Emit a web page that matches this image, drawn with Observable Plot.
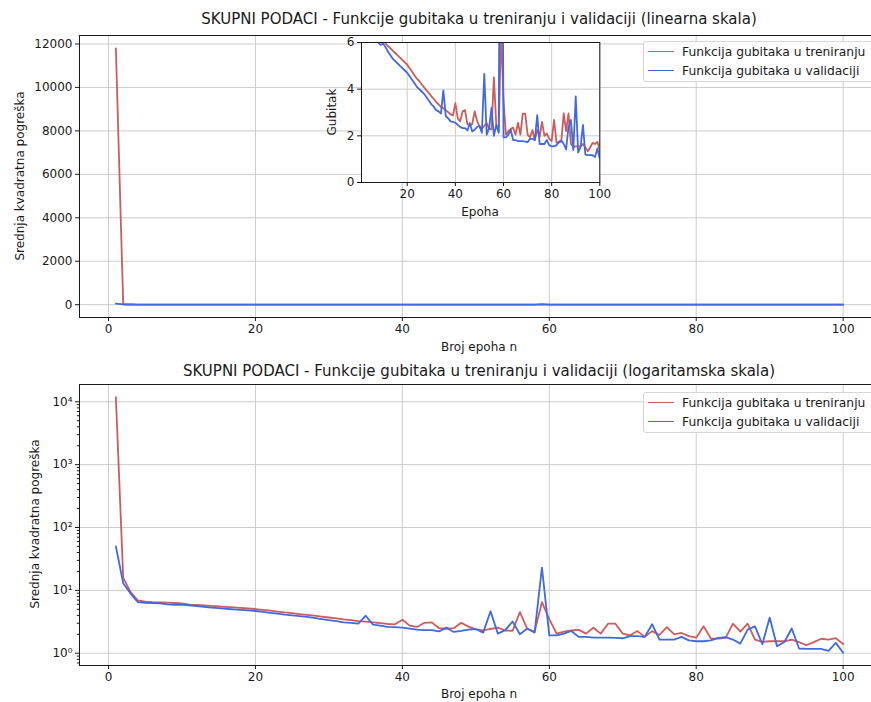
<!DOCTYPE html>
<html><head><meta charset="utf-8">
<script src="https://cdn.jsdelivr.net/npm/d3@7"></script>
<script src="https://cdn.jsdelivr.net/npm/@observablehq/plot@0.6"></script>
<style>
body{margin:0;background:#fff;}
#root{position:relative;width:871px;height:702px;overflow:hidden;background:#fff;font-family:"DejaVu Sans",sans-serif;color:#1a1a1a;}
.abs{position:absolute;left:0;top:0;}
.title{position:absolute;font-size:15px;white-space:nowrap;transform:translateX(-50%);line-height:17px;}
.ylab{position:absolute;font-size:12px;white-space:nowrap;transform:translate(-50%,-50%) rotate(-90deg);line-height:14px;}
.xlab{position:absolute;font-size:12px;white-space:nowrap;transform:translate(-50%,-50%);line-height:14px;}
.legend{position:absolute;width:232px;height:41px;border:1px solid #d6d6d6;border-radius:3px;background:rgba(255,255,255,0.85);font-size:12.3px;box-sizing:border-box;}
.legend .sw{position:absolute;left:4px;width:26px;height:0;border-top:1.8px solid;}
.legend .tx{position:absolute;left:38px;white-space:nowrap;line-height:14px;transform:translateY(-50%);}
</style>
</head><body>
<div id="root"></div>
<script>
// ---- data ----
const epochs = Array.from({length: 100}, (_, i) => i + 1);
const trainLoss = [11800, 16, 9.4, 6.9, 6.6, 6.5, 6.45, 6.4, 6.3, 6.2,
  5.95, 5.85, 5.75, 5.65, 5.55, 5.45, 5.35, 5.25, 5.15, 5.05,
  4.9, 4.75, 4.6, 4.45, 4.35, 4.2, 4.08, 3.95, 3.83, 3.7,
  3.58, 3.45, 3.35, 3.24, 3.18, 3.1, 3.02, 2.92, 2.88, 3.4,
  2.75, 2.62, 3.05, 3.1, 2.5, 2.45, 2.5, 3.05, 2.65, 2.4,
  2.3, 2.43, 2.55, 2.3, 2.28, 4.5, 2.45, 2.2, 6.5, 3.5,
  2.05, 2.2, 2.3, 2.35, 2.05, 2.55, 2.05, 2.95, 2.95, 2.05,
  1.93, 2.25, 1.82, 2.25, 1.95, 2.6, 2.0, 2.1, 1.87, 1.77,
  2.68, 1.71, 1.71, 1.75, 2.96, 2.2, 2.96, 1.65, 1.52, 1.55,
  1.55, 1.55, 1.65, 1.5, 1.34, 1.5, 1.7, 1.65, 1.74, 1.4];
const valLoss = [50, 13, 8.9, 6.5, 6.35, 6.3, 6.2, 6.0, 5.9, 5.95,
  5.8, 5.6, 5.45, 5.3, 5.2, 5.1, 5.0, 4.9, 4.8, 4.7,
  4.55, 4.4, 4.25, 4.1, 4.0, 3.9, 3.8, 3.65, 3.5, 3.35,
  3.25, 3.1, 3.05, 2.95, 3.95, 2.85, 2.75, 2.62, 2.6, 2.56,
  2.47, 2.38, 2.33, 2.33, 2.23, 2.55, 2.18, 2.26, 2.38, 2.43,
  2.13, 4.65, 2.05, 2.33, 3.2, 2.0, 2.47, 2.13, 23, 1.93,
  1.93, 2.05, 2.26, 1.82, 1.82, 1.77, 1.77, 1.77, 1.75, 1.73,
  1.87, 1.87, 1.82, 2.89, 1.65, 1.65, 1.65, 1.82, 1.6, 1.55,
  1.55, 1.6, 1.75, 1.8, 1.65, 1.42, 2.38, 2.68, 1.39, 3.69,
  1.29, 1.51, 2.47, 1.19, 1.17, 1.17, 1.17, 1.09, 1.46, 1.02];
const seriesNames = ["Funkcija gubitaka u treniranju", "Funkcija gubitaka u validaciji"];
const seriesColors = ["#cd5c5c", "#4169e1"];
const titles = ["SKUPNI PODACI - Funkcije gubitaka u treniranju i validaciji (linearna skala)",
                "SKUPNI PODACI - Funkcije gubitaka u treniranju i validaciji (logaritamska skala)"];
const xLabel = "Broj epoha n";
const yLabel = "Srednja kvadratna pogreška";
const insetXLabel = "Epoha";
const insetYLabel = "Gubitak";
const xTicks = [0, 20, 40, 60, 80, 100];
const linTicks = [0, 2000, 4000, 6000, 8000, 10000, 12000];
const logTicks = [1, 10, 100, 1000, 10000];
const insetXTicks = [20, 40, 60, 80, 100];
const insetYTicks = [0, 2, 4, 6];

const rows = epochs.map((e, i) => ({epoch: e, train: trainLoss[i], val: valLoss[i]}));

const root = document.getElementById("root");
const INK = "#1a1a1a";
const GRID = "#cccccc";
const LW = 1.8;
const baseStyle = {background: "transparent", maxWidth: "none", overflow: "visible",
  fontFamily: "DejaVu Sans, sans-serif", fontSize: "12px", color: INK};
const xDomain = [-3.95, 104.95];

function place(el, left, topPx) {
  const w = document.createElement("div");
  w.className = "abs";
  w.style.left = left + "px"; w.style.top = topPx + "px";
  w.appendChild(el); root.appendChild(w);
}
function addDiv(cls, text, left, topPx) {
  const d = document.createElement("div");
  d.className = cls; d.textContent = text;
  d.style.left = left + "px"; d.style.top = topPx + "px";
  root.appendChild(d); return d;
}
function addLegend(left, topPx) {
  const lg = document.createElement("div");
  lg.className = "legend"; lg.style.left = left + "px"; lg.style.top = topPx + "px";
  seriesNames.forEach((n, i) => {
    const y = 10 + i * 18.8;
    const sw = document.createElement("div"); sw.className = "sw";
    sw.style.top = (y - 0.9) + "px"; sw.style.borderTopColor = seriesColors[i];
    const tx = document.createElement("div"); tx.className = "tx";
    tx.style.top = y + "px"; tx.textContent = n;
    lg.appendChild(sw); lg.appendChild(tx);
  });
  root.appendChild(lg);
}

// ---- top (linear) ----
const linPlot = Plot.plot({
  width: 900, height: 360,
  marginLeft: 79, marginRight: 21, marginTop: 35, marginBottom: 43,
  style: baseStyle,
  x: {domain: xDomain},
  y: {domain: [-590, 12390]},
  marks: [
    Plot.gridX(xTicks, {stroke: GRID, strokeOpacity: 1, strokeWidth: 1}),
    Plot.gridY(linTicks, {stroke: GRID, strokeOpacity: 1, strokeWidth: 1}),
    Plot.line(rows, {x: "epoch", y: "train", stroke: seriesColors[0], strokeWidth: LW}),
    Plot.line(rows, {x: "epoch", y: "val", stroke: seriesColors[1], strokeWidth: LW}),
    Plot.frame({stroke: INK, strokeWidth: 1}),
    Plot.axisX(xTicks, {label: null, tickSize: 4, tickPadding: 3, fontSize: 12, tickFormat: d => String(d)}),
    Plot.axisY(linTicks, {label: null, tickSize: 4, tickPadding: 3, fontSize: 12, tickFormat: d => String(d)})
  ]
});
place(linPlot, 0, 0);

// ---- bottom (log) ----
const sup = {"0":"⁰","1":"¹","2":"²","3":"³","4":"⁴","5":"⁵","6":"⁶","7":"⁷","8":"⁸","9":"⁹","-":"⁻"};
const yLogDomain = [0.638, 18840];
const minor = [];
for (let k = -1; k <= 4; k++) for (let m = 2; m <= 9; m++) {
  const v = m * Math.pow(10, k);
  if (v >= yLogDomain[0] && v <= yLogDomain[1]) minor.push(v);
}
const logPlot = Plot.plot({
  width: 900, height: 352,
  marginLeft: 79, marginRight: 21, marginTop: 34, marginBottom: 37,
  style: baseStyle,
  x: {domain: xDomain},
  y: {type: "log", domain: yLogDomain},
  marks: [
    Plot.gridX(xTicks, {stroke: GRID, strokeOpacity: 1, strokeWidth: 1}),
    Plot.gridY(logTicks, {stroke: GRID, strokeOpacity: 1, strokeWidth: 1}),
    Plot.line(rows, {x: "epoch", y: "train", stroke: seriesColors[0], strokeWidth: LW}),
    Plot.line(rows, {x: "epoch", y: "val", stroke: seriesColors[1], strokeWidth: LW}),
    Plot.frame({stroke: INK, strokeWidth: 1}),
    Plot.axisX(xTicks, {label: null, tickSize: 4, tickPadding: 3, fontSize: 12, tickFormat: d => String(d)}),
    Plot.axisY(minor, {label: null, tickSize: 2.2, tickFormat: () => ""}),
    Plot.axisY(logTicks, {label: null, tickSize: 4, tickPadding: 3, fontSize: 12,
      tickFormat: d => "10" + String(Math.round(Math.log10(d))).split("").map(c => sup[c]).join("")})
  ]
});
place(logPlot, 0, 350);

// ---- inset ----
const insetPlot = Plot.plot({
  width: 290, height: 200,
  marginLeft: 40, marginRight: 11.7, marginTop: 10, marginBottom: 50,
  style: baseStyle,
  x: {domain: [1, 100]},
  y: {domain: [0, 6]},
  marks: [
    Plot.frame({fill: "white"}),
    Plot.gridX(insetXTicks, {stroke: GRID, strokeOpacity: 1, strokeWidth: 1}),
    Plot.gridY(insetYTicks, {stroke: GRID, strokeOpacity: 1, strokeWidth: 1}),
    Plot.line(rows, {x: "epoch", y: "train", stroke: seriesColors[0], strokeWidth: LW, clip: true}),
    Plot.line(rows, {x: "epoch", y: "val", stroke: seriesColors[1], strokeWidth: LW, clip: true}),
    Plot.frame({stroke: INK, strokeWidth: 1}),
    Plot.axisX(insetXTicks, {label: null, tickSize: 4, tickPadding: 3, fontSize: 12, tickFormat: d => String(d)}),
    Plot.axisY(insetYTicks, {label: null, tickSize: 4, tickPadding: 3, fontSize: 12, tickFormat: d => String(d)})
  ]
});
place(insetPlot, 321, 32);

// ---- text ----
addDiv("title", titles[0], 479, 11);
addDiv("title", titles[1], 479, 363);
addDiv("xlab", xLabel, 479, 347);
addDiv("xlab", xLabel, 479, 694);
addDiv("ylab", yLabel, 20, 176);
addDiv("ylab", yLabel, 35, 524);
addDiv("xlab", insetXLabel, 480, 212);
addDiv("ylab", insetYLabel, 332, 112);
addLegend(643, 41);
addLegend(643, 392);
</script>
</body></html>
